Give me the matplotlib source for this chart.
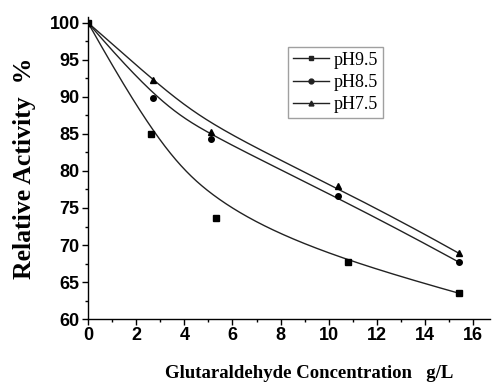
import numpy as np
import matplotlib
matplotlib.use("Agg")
import matplotlib.pyplot as plt
from matplotlib.ticker import MultipleLocator

# Data
x_95 = [0, 2.6, 5.3, 10.8, 15.4]
y_95 = [100, 85.0, 73.6, 67.7, 63.5]
x_85 = [0, 2.7, 5.1, 10.4, 15.4]
y_85 = [100, 89.8, 84.3, 76.6, 67.7]
x_75 = [0, 2.7, 5.1, 10.4, 15.4]
y_75 = [100, 92.3, 85.2, 78.0, 68.9]
labels = ["pH9.5", "pH8.5", "pH7.5"]
markers = ["s", "o", "^"]


def bspline(x, y, degree=3, n=400):
    """Clamped cubic B-spline with the data points as control points,
    knots by averaging the normalised x positions."""
    P = np.column_stack([x, y]).astype(float)
    m = len(P)
    k = degree
    u = (P[:, 0] - P[0, 0]) / (P[-1, 0] - P[0, 0])
    inner = np.array([u[j:j + k].mean() for j in range(1, m - k)])
    knots = np.concatenate([np.zeros(k + 1), inner, np.ones(k + 1)])
    t = np.linspace(0, 1, n)
    t[-1] = 1 - 1e-12
    N = np.zeros((n, len(knots) - 1))
    for i in range(len(knots) - 1):
        N[:, i] = (t >= knots[i]) & (t < knots[i + 1])
    for d in range(1, k + 1):
        Nn = np.zeros((n, len(knots) - 1 - d))
        for i in range(len(knots) - 1 - d):
            a = 0.0
            den1 = knots[i + d] - knots[i]
            den2 = knots[i + d + 1] - knots[i + 1]
            if den1 > 0:
                a = (t - knots[i]) / den1 * N[:, i]
            b = 0.0
            if den2 > 0:
                b = (knots[i + d + 1] - t) / den2 * N[:, i + 1]
            Nn[:, i] = a + b
        N = Nn
    C = N @ P
    return C[:, 0], C[:, 1]


fig = plt.figure(figsize=(4.92, 3.84), dpi=100)
ax = fig.add_axes([0.179, 0.169, 0.817, 0.787])

for xd, yd, lab, mk in zip([x_95, x_85, x_75], [y_95, y_85, y_75], labels, markers):
    xs, ys = bspline(xd, yd)
    ax.plot(xs, ys, color="#222222", lw=1.0)
    ax.plot(xd, yd, linestyle="none", marker=mk, color="black", ms=4)
    ax.plot([], [], color="#222222", lw=1.0, marker=mk, ms=3.5, label=lab)

ax.set_xlim(0, 16.7)
ax.set_ylim(60, 100.8)
ax.xaxis.set_major_locator(MultipleLocator(2))
ax.xaxis.set_minor_locator(MultipleLocator(1))
ax.yaxis.set_major_locator(MultipleLocator(5))
ax.yaxis.set_minor_locator(MultipleLocator(2.5))
ax.spines["top"].set_visible(False)
ax.spines["right"].set_visible(False)
for s in ("left", "bottom"):
    ax.spines[s].set_linewidth(1.0)
ax.tick_params(which="major", direction="out", length=4, width=1, pad=2)
ax.tick_params(which="minor", direction="out", length=2.5, width=1)
for lbl in ax.get_xticklabels() + ax.get_yticklabels():
    lbl.set_fontfamily("Liberation Sans")
    lbl.set_fontweight("bold")
    lbl.set_fontsize(13)

ax.set_ylabel("Relative Activity  %", fontfamily="Liberation Serif",
              fontweight="bold", fontsize=18.5, labelpad=10)
fig.text(0.628, 0.028, "Glutaraldehyde Concentration   g/L", ha="center",
         va="center", fontfamily="Liberation Serif", fontweight="bold", fontsize=13.5)

leg = ax.legend(loc="upper left", bbox_to_anchor=(0.4975, 0.90), frameon=True,
                fancybox=False, edgecolor="#888888", handlelength=2.0,
                handletextpad=0.3, borderpad=0.25, labelspacing=0.3,
                borderaxespad=0, prop={"family": "Liberation Serif", "size": 13})
leg.get_frame().set_linewidth(1.0)

fig.savefig("out.png", dpi=100)
